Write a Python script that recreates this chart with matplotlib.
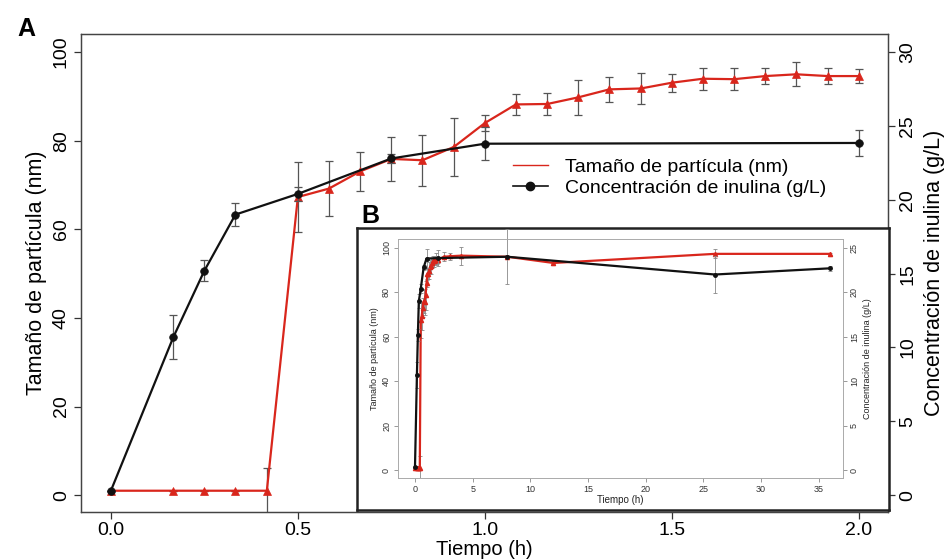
import numpy as np
import matplotlib
matplotlib.use("Agg")
import matplotlib.pyplot as plt
from matplotlib.lines import Line2D

plt.rcParams["font.family"] = ["Liberation Sans", "DejaVu Sans"]

RED = "#d9261c"
ERR = "#555555"

# ── data: first 2 h (panel A) ────────────────────────────────────────────────
t_size = [0.0, 0.167, 0.25, 0.333, 0.417, 0.5, 0.583, 0.667, 0.75, 0.833, 0.917,
          1.0, 1.083, 1.167, 1.25, 1.333, 1.417, 1.5, 1.583, 1.667, 1.75, 1.833,
          1.917, 2.0]
size_nm = [1.0, 1.0, 1.0, 1.0, 1.0, 67.3, 69.2, 73.1, 75.9, 75.6, 78.6,
           84.0, 88.2, 88.3, 89.8, 91.6, 91.8, 93.1, 94.0, 93.9, 94.6, 95.0,
           94.6, 94.6]
size_err = [0, 0, 0, 0, 5.2, 7.9, 6.2, 4.4, 5.0, 5.8, 6.6,
            1.7, 2.4, 2.5, 4.0, 2.9, 3.5, 2.0, 2.5, 2.5, 1.8, 2.7,
            1.9, 1.5]

t_conc = [0.0, 0.167, 0.25, 0.333, 0.5, 0.75, 1.0, 2.0]
conc_gl = [0.3, 10.7, 15.2, 19.0, 20.4, 22.8, 23.8, 23.85]
conc_err = [0, 1.5, 0.7, 0.8, 0.5, 0.3, 1.1, 0.9]

# ── extra points for the long run (panel B) ──────────────────────────────────
t_size_long = [2.5, 3.0, 4.0, 8.0, 12.0, 26.0, 36.0]
size_long = [96.0, 96.2, 96.5, 96.0, 93.2, 97.3, 97.3]
size_long_err = [2.0, 1.5, 4.0, 1.0, 1.0, 2.0, 0.5]

t_conc_long = [8.0, 26.0, 36.0]
conc_long = [24.0, 22.0, 22.7]
conc_long_err = [3.1, 2.1, 0.3]


fig = plt.figure(figsize=(9.47, 5.59), dpi=100)

# ── panel A ──────────────────────────────────────────────────────────────────
ax = fig.add_axes([0.0855, 0.0841, 0.8522, 0.8551])
ax2 = ax.twinx()

ax.errorbar(t_size, size_nm, yerr=size_err, fmt="none", ecolor=ERR,
            elinewidth=0.9, capsize=3, capthick=0.9, zorder=2)
ax.plot(t_size, size_nm, color=RED, lw=1.6, marker="^", ms=6, mew=0.5, zorder=3)

ax2.errorbar(t_conc, conc_gl, yerr=conc_err, fmt="none", ecolor=ERR,
             elinewidth=0.9, capsize=3, capthick=0.9, zorder=2)
ax2.plot(t_conc, conc_gl, color="#111111", lw=1.6, marker="o", ms=5.5, mew=0.5, zorder=3)

ax.set_xlim(-0.080, 2.078)
ax.set_ylim(-3.8, 104.1)
ax2.set_ylim(-3.8 * 0.3, 104.1 * 0.3)
ax.set_xticks([0.0, 0.5, 1.0, 1.5, 2.0])
ax.set_xticklabels(["0.0", "0.5", "1.0", "1.5", "2.0"])
ax.set_yticks([0, 20, 40, 60, 80, 100])
ax2.set_yticks([0, 5, 10, 15, 20, 25, 30])

for a in (ax, ax2):
    a.tick_params(length=5, width=0.9, color="#333333", labelsize=14, pad=3)
    for s in a.spines.values():
        s.set_color("#444444")
        s.set_linewidth(0.9)
ax.tick_params(axis="x", pad=2)
for lab in ax.get_yticklabels() + ax2.get_yticklabels():
    lab.set_rotation(90)
    lab.set_va("center")

ax.set_xlabel("Tiempo (h)", fontsize=14.5, labelpad=1)
ax.set_ylabel("Tamaño de partícula (nm)", fontsize=15.5, labelpad=4)
ax2.set_ylabel("Concentración de inulina (g/L)", fontsize=15.5, labelpad=6)

handles = [Line2D([], [], color=RED, lw=1.0),
           Line2D([], [], color="#111111", lw=1.2, marker="o", ms=6)]
fig.legend(handles, ["Tamaño de partícula (nm)", "Concentración de inulina (g/L)"],
           loc="upper left", bbox_to_anchor=(0.533, 0.731), frameon=False,
           fontsize=14, handlelength=1.8, handletextpad=0.9, labelspacing=0.2,
           borderaxespad=0)

fig.text(0.018, 0.935, "A", fontsize=18, fontweight="bold")
fig.text(0.382, 0.601, "B", fontsize=18, fontweight="bold")

# ── panel B (inset) ──────────────────────────────────────────────────────────
frame = fig.add_axes([0.377, 0.0877, 0.5618, 0.5045])
frame.set_xticks([])
frame.set_yticks([])
for s in frame.spines.values():
    s.set_linewidth(1.8)
    s.set_color("#222222")
frame.set_zorder(5)

axb = fig.add_axes([0.4203, 0.1449, 0.4699, 0.4276])
axb.set_zorder(6)
axb2 = axb.twinx()
axb2.set_zorder(7)

t_b = t_size + t_size_long
s_b = size_nm + size_long
e_b = size_err + size_long_err
axb.errorbar(t_b, s_b, yerr=e_b, fmt="none", ecolor="#888888",
             elinewidth=0.6, capsize=1.5, capthick=0.6, zorder=2)
axb.plot(t_b, s_b, color=RED, lw=1.6, marker="^", ms=3, zorder=3)

tc_b = t_conc + t_conc_long
c_b = conc_gl + conc_long
ce_b = conc_err + conc_long_err
axb2.errorbar(tc_b, c_b, yerr=ce_b, fmt="none", ecolor="#888888",
              elinewidth=0.6, capsize=1.5, capthick=0.6, zorder=2, clip_on=False)
axb2.plot(tc_b, c_b, color="#111111", lw=1.6, marker="o", ms=2.5, zorder=3)

axb.set_xlim(-1.47, 37.1)
axb.set_ylim(-3.6, 104)
axb2.set_ylim(-0.9, 26)
axb.set_xticks([0, 5, 10, 15, 20, 25, 30, 35])
axb.set_yticks([0, 20, 40, 60, 80, 100])
axb2.set_yticks([0, 5, 10, 15, 20, 25])

for a in (axb, axb2):
    a.tick_params(length=3, width=0.6, color="#888888", labelsize=6.5,
                  labelcolor="#333333", pad=2)
    for s in a.spines.values():
        s.set_color("#aaaaaa")
        s.set_linewidth(0.6)
for lab in axb.get_yticklabels() + axb2.get_yticklabels():
    lab.set_rotation(90)
    lab.set_va("center")
axb.set_xlabel("Tiempo (h)", fontsize=7, labelpad=1, color="#222222")
axb.set_ylabel("Tamaño de partícula (nm)", fontsize=6.5, labelpad=2, color="#222222")
axb2.set_ylabel("Concentración de inulina (g/L)", fontsize=6.5, labelpad=3, color="#222222")

fig.savefig("out.png", dpi=100)
